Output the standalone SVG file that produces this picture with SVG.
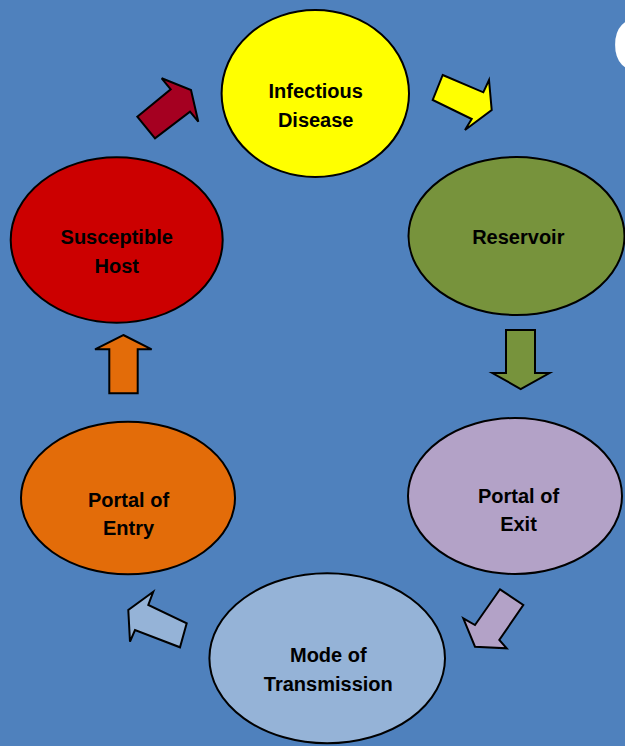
<svg xmlns="http://www.w3.org/2000/svg" width="625" height="746" viewBox="0 0 625 746">
<style>
.node ellipse{stroke:#000;stroke-width:2}
.lbl{font-family:"Liberation Sans",Arial,sans-serif;font-weight:bold;font-size:20px;fill:#000;text-anchor:middle}
.arr polygon{stroke:#000;stroke-width:2;stroke-linejoin:miter}
</style>
<rect x="0" y="0" width="625" height="746" fill="#4F81BD"/>
<text x="612" y="71" font-family="'Liberation Sans',Arial,sans-serif" font-weight="bold" font-size="76" fill="#FFFFFF">C</text>
<g id="connectors" class="arr">
<polygon id="a1" fill="#A50021" points="137.3,116.7 170.7,89.3 161.7,78.3 191,90 198.3,121.7 190,111.7 155,138.3"/>
<polygon id="a2" fill="#FFFF00" points="442.7,75 483.3,92.3 489,80 491.7,110 465,130 471.7,119 432.7,100"/>
<polygon id="a3" fill="#77933C" points="506,330 535,330 535,373 549.5,373 520.7,389 492.3,373 506,373"/>
<polygon id="a4" fill="#B3A2C7" points="500,589.3 523.3,605 499.3,640 506.7,648.3 475,646.7 463.3,618.3 475,625"/>
<polygon id="a5" fill="#95B3D7" points="153.3,591.7 148.3,605 186.7,623.3 180,647.3 135,630 130,641.7 128.3,610"/>
<polygon id="a6" fill="#E36C09" points="123.3,335 151.7,349.3 137.7,349.3 137.7,393.3 109.3,393.3 109.3,349.3 95,349.3"/>
</g>
<g id="infectious" class="node">
<ellipse cx="315.3" cy="93.5" rx="93.7" ry="83.5" fill="#FFFF00"/>
<text class="lbl" x="315.7" y="98">Infectious</text>
<text class="lbl" x="315.7" y="126.5">Disease</text>
</g>
<g id="reservoir" class="node">
<ellipse cx="516.5" cy="236" rx="108" ry="79" fill="#77933C"/>
<text class="lbl" x="518.3" y="244">Reservoir</text>
</g>
<g id="exit" class="node">
<ellipse cx="515" cy="496" rx="107" ry="78" fill="#B3A2C7"/>
<text class="lbl" x="518.5" y="502.5">Portal of</text>
<text class="lbl" x="518.5" y="531">Exit</text>
</g>
<g id="transmission" class="node">
<ellipse cx="327.2" cy="658.3" rx="117.8" ry="85" fill="#95B3D7"/>
<text class="lbl" x="328.3" y="662.3">Mode of</text>
<text class="lbl" x="328.3" y="690.7">Transmission</text>
</g>
<g id="entry" class="node">
<ellipse cx="128" cy="498" rx="107" ry="76.3" fill="#E36C09"/>
<text class="lbl" x="128.5" y="506.7">Portal of</text>
<text class="lbl" x="128.5" y="535">Entry</text>
</g>
<g id="host" class="node">
<ellipse cx="116.7" cy="240" rx="106" ry="82.7" fill="#CC0000"/>
<text class="lbl" x="116.7" y="244.3">Susceptible</text>
<text class="lbl" x="116.7" y="273">Host</text>
</g>
</svg>
